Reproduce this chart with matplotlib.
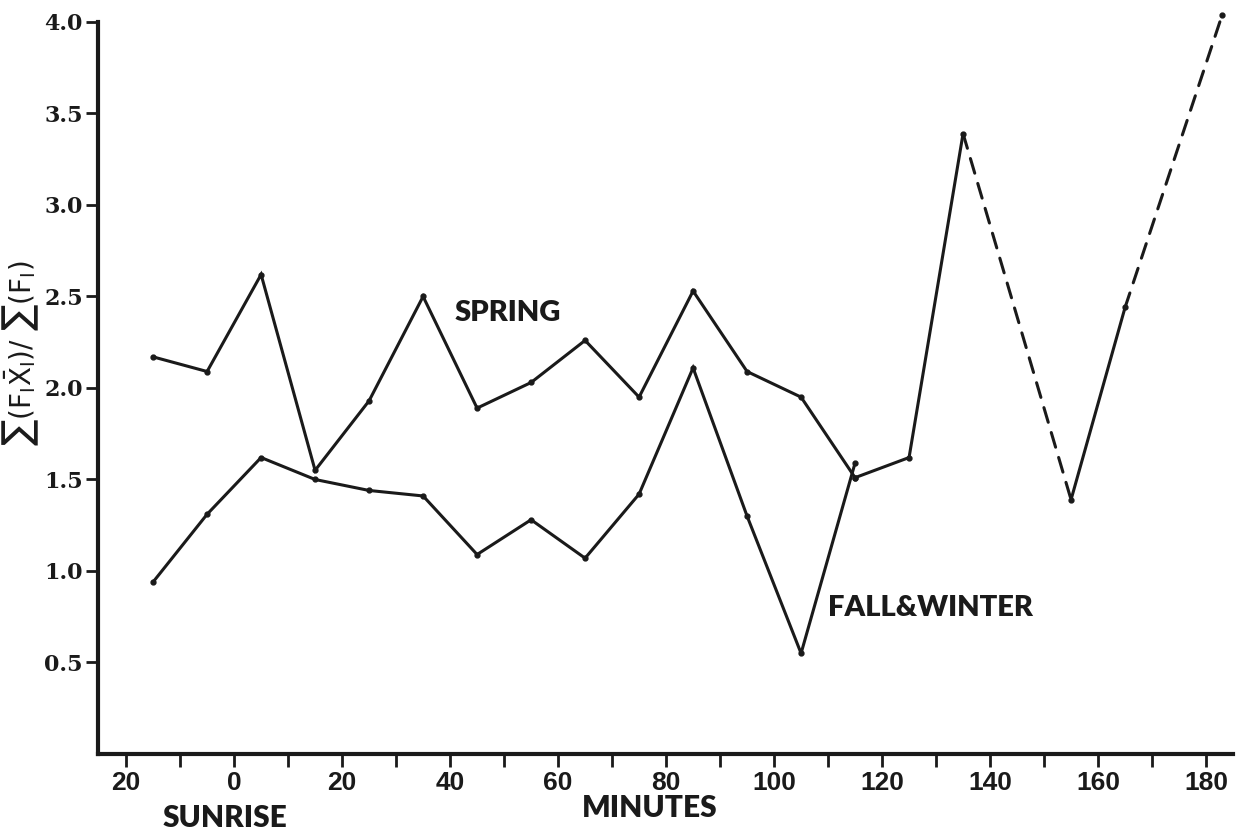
import matplotlib
matplotlib.use("Agg")
import matplotlib.pyplot as plt
from matplotlib.ticker import FixedLocator, FixedFormatter

# Minutes relative to sunrise, sampled every 10 minutes
minutes = [-15, -5, 5, 15, 25, 35, 45, 55, 65, 75, 85, 95, 105, 115]
spring = [2.17, 2.09, 2.62, 1.55, 1.93, 2.50, 1.89, 2.03, 2.26, 1.95, 2.53, 2.09, 1.95, 1.51]
fall_winter = [0.94, 1.31, 1.62, 1.50, 1.44, 1.41, 1.09, 1.28, 1.07, 1.42, 2.11, 1.30, 0.55, 1.59]

# Late-morning continuation (solid where observed, dashed across gaps)
late_minutes = [115, 125, 135, 155, 165, 183]
late_values = [1.51, 1.62, 3.39, 1.39, 2.44, 4.04]
late_dashed = [False, False, True, False, True]

x_major = [-20, 0, 20, 40, 60, 80, 100, 120, 140, 160, 180]
x_major_labels = ["20", "0", "20", "40", "60", "80", "100", "120", "140", "160", "180"]
x_minor = [-10, 10, 30, 50, 70, 90, 110, 130, 150, 170]
y_ticks = [0.5, 1.0, 1.5, 2.0, 2.5, 3.0, 3.5, 4.0]
y_labels = ["0.5", "1.0", "1.5", "2.0", "2.5", "3.0", "3.5", "4.0"]

INK = "#1a1a1a"
LW = 2.2

fig = plt.figure(figsize=(12.44, 8.36), dpi=100)
ax = fig.add_axes([0.0788, 0.0981, 0.9124, 0.8756])

line_kw = dict(color=INK, lw=LW, marker="o", ms=3.5, solid_capstyle="round",
               solid_joinstyle="miter", clip_on=False)
ax.plot(minutes, spring, **line_kw)
ax.plot(minutes, fall_winter, **line_kw)

for i, dashed in enumerate(late_dashed):
    xs = late_minutes[i:i + 2]
    ys = late_values[i:i + 2]
    if dashed:
        ax.plot(xs, ys, color=INK, lw=LW, ls=(0, (5, 3.5)), dash_capstyle="round",
                clip_on=False)
    else:
        ax.plot(xs, ys, color=INK, lw=LW, solid_capstyle="round", clip_on=False)
ax.plot(late_minutes, late_values, ls="none", marker="o", ms=3.5, color=INK, clip_on=False)

ax.set_xlim(-25.2, 185)
ax.set_ylim(0, 4.0)

for side in ("top", "right"):
    ax.spines[side].set_visible(False)
for side in ("left", "bottom"):
    ax.spines[side].set_linewidth(3)
    ax.spines[side].set_color(INK)

ax.xaxis.set_major_locator(FixedLocator(x_major))
ax.xaxis.set_major_formatter(FixedFormatter(x_major_labels))
ax.xaxis.set_minor_locator(FixedLocator(x_minor))
ax.yaxis.set_major_locator(FixedLocator(y_ticks))
ax.yaxis.set_major_formatter(FixedFormatter(y_labels))

ax.tick_params(axis="x", which="both", direction="out", length=9, width=2, color=INK, pad=3)
ax.tick_params(axis="y", which="major", direction="out", length=9, width=2, color=INK, pad=2)

for lab in ax.get_xticklabels():
    lab.set_fontfamily(["Liberation Sans", "DejaVu Sans"])
    lab.set_fontweight("bold")
    lab.set_fontsize(19)
    lab.set_color(INK)
for lab in ax.get_yticklabels():
    lab.set_fontfamily(["DejaVu Serif"])
    lab.set_fontweight("bold")
    lab.set_fontsize(16)
    lab.set_color(INK)

label_font = dict(family=["Lato", "DejaVu Sans"], weight="heavy", color=INK)
ax.text(50.6, 2.41, "SPRING", ha="center", va="center", fontsize=21, **label_font)
ax.text(129, 0.80, "FALL&WINTER", ha="center", va="center", fontsize=21, **label_font)
fig.text(0.181, 0.022, "SUNRISE", ha="center", va="center", fontsize=21.5, **label_font)
fig.text(0.522, 0.034, "MINUTES", ha="center", va="center", fontsize=21.5, **label_font)

fig.text(0.017, 0.578, r"$\sum(\mathrm{F_I\bar{X}_I})/\ \sum(\mathrm{F_I})$", rotation=90,
         ha="center", va="center", fontsize=20, color=INK)

fig.savefig("out.png", dpi=100, facecolor="white")
